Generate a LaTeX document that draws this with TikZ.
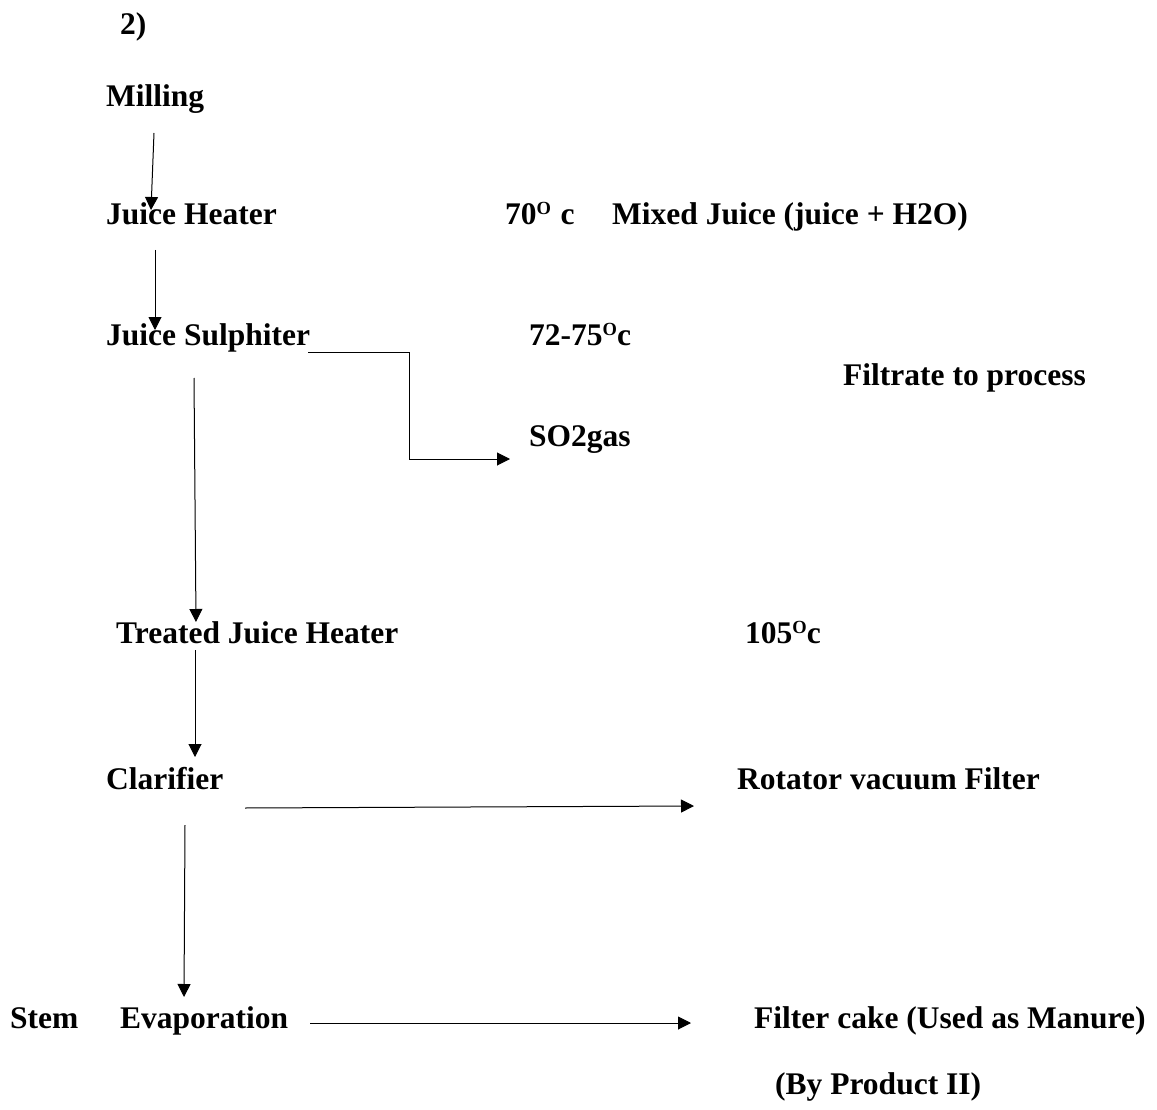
\documentclass[tikz,border=0pt]{standalone}
\usepackage{fontspec}
\setmainfont{Liberation Serif}
\usetikzlibrary{arrows.meta}
\newcommand{\supO}{\raisebox{10pt}{\fontsize{18.5}{18}\selectfont O}}
\tikzset{
  lbl/.style={anchor=base west, inner sep=0pt, font=\bfseries\fontsize{31.5}{38}\selectfont},
  flow/.style={line width=1pt, -{Triangle[length=13pt,width=13pt]}},
  plain/.style={line width=1pt}
}
\begin{document}
\begin{tikzpicture}[x=1pt,y=-1pt]
\useasboundingbox (0,0) rectangle (1157,1110);
% labels
\node[lbl] (num) at (120,35) {2)};
\node[lbl] (mill) at (106,107) {Milling};
\node[lbl] (jh) at (106,225) {Juice Heater};
\node[lbl] (t70) at (505,225) {70\supO\hspace{0.3em}c};
\node[lbl] (mix) at (612,225) {Mixed Juice (juice + H2O)};
\node[lbl] (js) at (106,345) {Juice Sulphiter};
\node[lbl] (t72) at (529,345) {72-75\supO c};
\node[lbl] (filt) at (843,385) {Filtrate to process};
\node[lbl] (so2) at (529,446) {SO2gas};
\node[lbl] (tjh) at (116,643) {Treated Juice Heater};
\node[lbl] (t105) at (745,643) {105\supO c};
\node[lbl] (clar) at (106,789) {Clarifier};
\node[lbl] (rvf) at (737,789) {Rotator vacuum Filter};
\node[lbl] (stem) at (10,1028) {Stem};
\node[lbl] (evap) at (120,1028) {Evaporation};
\node[lbl] (cake) at (754,1028) {Filter cake (Used as Manure)};
\node[lbl] (byp) at (775,1094) {(By Product II)};
% connector ends
\coordinate (a1s) at (154,133);
\coordinate (a1e) at (151,210);
\coordinate (a2s) at (155,250);
\coordinate (a2e) at (155,330);
\coordinate (a3s) at (308,352);
\coordinate (a3b) at (409,352);
\coordinate (a3c) at (409,459);
\coordinate (a3e) at (510,459);
\coordinate (a4s) at (194,378);
\coordinate (a4e) at (196,622);
\coordinate (a5s) at (195,650);
\coordinate (a5e) at (195,757);
\coordinate (a6s) at (245,808);
\coordinate (a6e) at (694,806);
\coordinate (a7s) at (185,825);
\coordinate (a7e) at (184,997);
\coordinate (a8s) at (310,1023);
\coordinate (a8e) at (691,1023);
% connectors
\draw[flow] (a1s) -- (a1e);
\draw[flow] (a2s) -- (a2e);
\draw[flow] (a3s) -- (a3b) -- (a3c) -- (a3e);
\draw[flow] (a4s) -- (a4e);
\draw[flow] (a5s) -- (a5e);
\draw[flow] (a6s) -- (a6e);
\draw[flow] (a7s) -- (a7e);
\draw[flow] (a8s) -- (a8e);
\end{tikzpicture}
\end{document}
